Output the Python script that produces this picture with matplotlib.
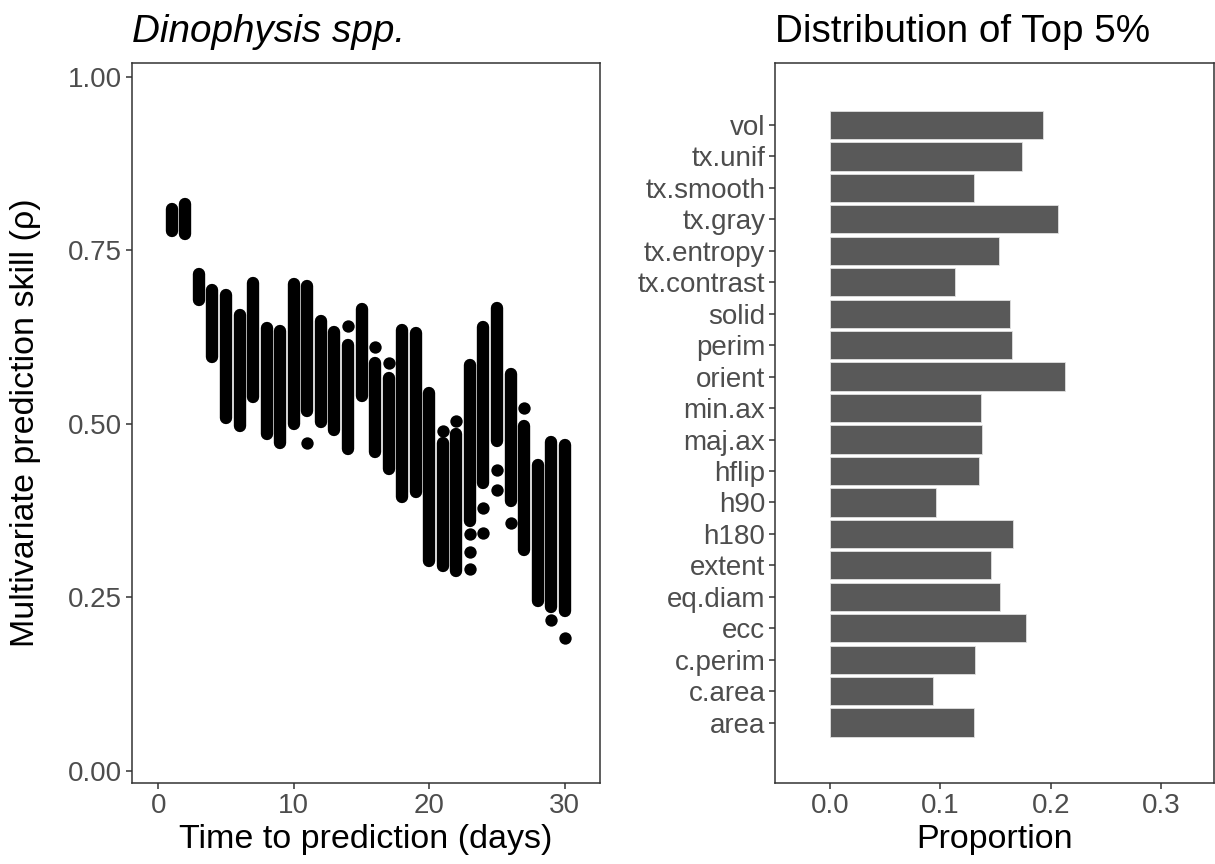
import matplotlib
matplotlib.use("Agg")
import matplotlib.pyplot as plt
import numpy as np

plt.rcParams["font.family"] = ["Liberation Sans", "DejaVu Sans"]

TICK = "#4d4d4d"; FRAME = "#333333"; BAR = "#595959"

# left panel: range of prediction skill per forecast horizon (dense columns) + separated points
days = list(range(1, 31))
skill_hi = [0.809, 0.817, 0.716, 0.693, 0.685, 0.657, 0.703, 0.638, 0.633, 0.701,
            0.698, 0.648, 0.632, 0.614, 0.665, 0.588, 0.566, 0.635, 0.631, 0.544,
            0.472, 0.485, 0.584, 0.639, 0.667, 0.572, 0.496, 0.441, 0.473, 0.469]
skill_lo = [0.778, 0.773, 0.678, 0.596, 0.508, 0.497, 0.538, 0.485, 0.472, 0.500,
            0.518, 0.502, 0.491, 0.463, 0.540, 0.459, 0.435, 0.395, 0.402, 0.302,
            0.295, 0.287, 0.360, 0.415, 0.475, 0.389, 0.318, 0.245, 0.236, 0.230]
out_day = [11, 14, 16, 17, 21, 22, 23, 23, 23, 24, 24, 25, 25, 26, 27, 29, 30]
out_val = [0.472, 0.641, 0.611, 0.588, 0.490, 0.504, 0.341, 0.315, 0.290,
           0.378, 0.342, 0.433, 0.405, 0.357, 0.522, 0.217, 0.191]

# right panel: share of each variable among top 5% models
features = ["vol", "tx.unif", "tx.smooth", "tx.gray", "tx.entropy", "tx.contrast",
            "solid", "perim", "orient", "min.ax", "maj.ax", "hflip", "h90", "h180",
            "extent", "eq.diam", "ecc", "c.perim", "c.area", "area"]
proportion = [0.193, 0.174, 0.130, 0.207, 0.153, 0.113, 0.163, 0.165, 0.213, 0.137,
              0.138, 0.135, 0.096, 0.166, 0.146, 0.154, 0.178, 0.131, 0.093, 0.130]

fig = plt.figure(figsize=(12.15, 8.64), dpi=100)
ax1 = fig.add_axes([132 / 1215, 81 / 864, 468 / 1215, 720 / 864])
ax2 = fig.add_axes([775 / 1215, 81 / 864, 439 / 1215, 720 / 864])

MS = 8.9  # marker diameter in points
ax1.vlines(days, skill_lo, skill_hi, colors="black", linewidth=MS,
           capstyle="round", zorder=3)
ax1.scatter(out_day, out_val, s=MS ** 2, color="black", linewidths=0, zorder=3)
ax1.set_xlim(-1.94, 32.6)
ax1.set_ylim(-0.018, 1.02)
ax1.set_xticks([0, 10, 20, 30])
ax1.set_yticks([0, 0.25, 0.5, 0.75, 1.0], ["0.00", "0.25", "0.50", "0.75", "1.00"])
ax1.set_xlabel("Time to prediction (days)", fontsize=24.5, labelpad=4)
ax1.set_ylabel("Multivariate prediction skill (ρ)", fontsize=24.5)
ax1.yaxis.set_label_coords(-0.195, 0.5)
ax1.set_title("Dinophysis spp.", fontsize=27.8, fontstyle="italic", loc="left", pad=15)

y = np.arange(len(features))[::-1]
ax2.barh(y, proportion, height=0.9, left=0, color=BAR, edgecolor="#e0e0e0",
         linewidth=0.6, zorder=3)
ax2.set_yticks(y, features)
ax2.set_ylim(-1.92, 20.97)
ax2.set_xlim(-0.05, 0.348)
ax2.set_xticks([0, 0.1, 0.2, 0.3], ["0.0", "0.1", "0.2", "0.3"])
ax2.set_xlabel("Proportion", fontsize=24.5, labelpad=4)
ax2.set_title("Distribution of Top 5%", fontsize=27.8, loc="left", pad=15)

for ax in (ax1, ax2):
    for s in ax.spines.values():
        s.set_color(FRAME); s.set_linewidth(1.1)
    ax.tick_params(length=4, width=1.1, color=FRAME, labelcolor=TICK,
                   labelsize=20, pad=3)

fig.savefig("out.png", dpi=100)
